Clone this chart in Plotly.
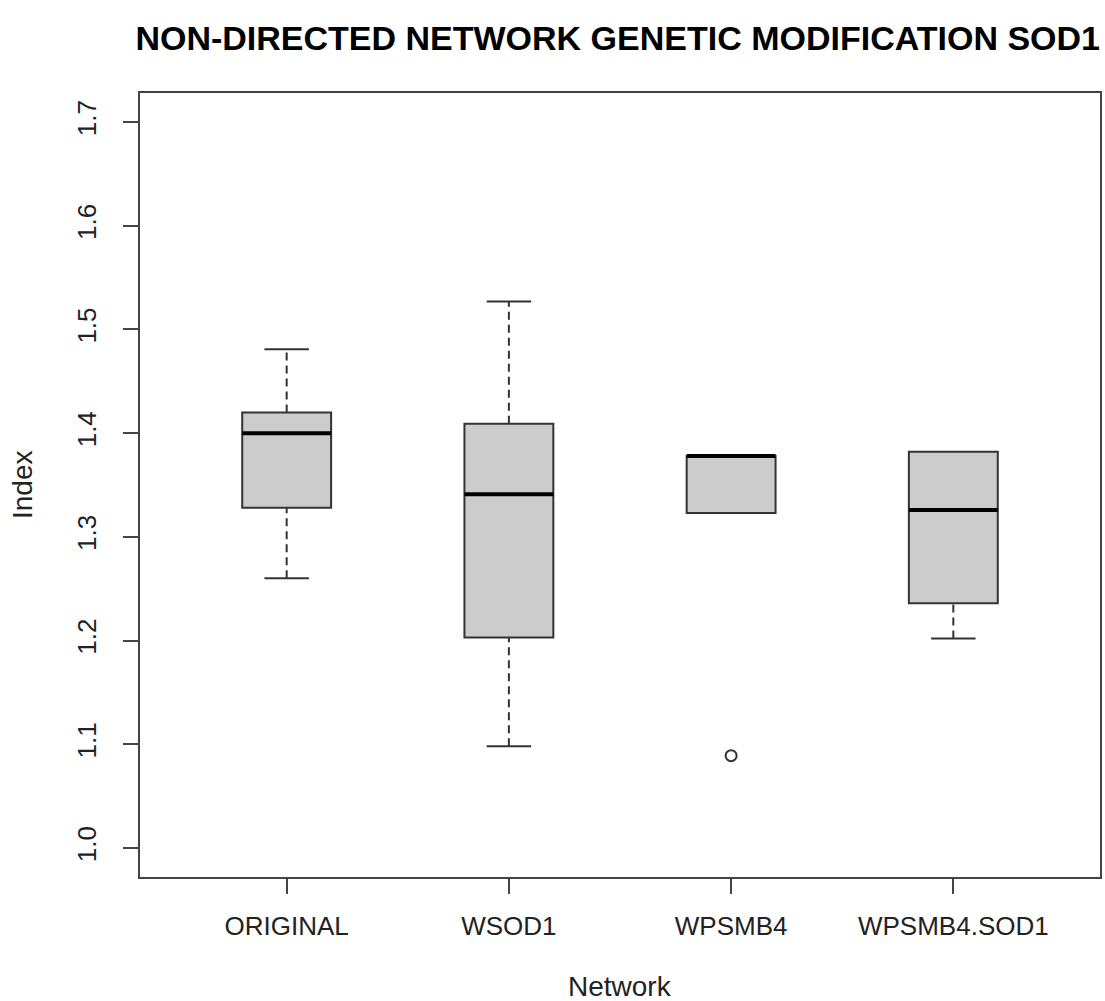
import plotly.graph_objects as go

categories = ["ORIGINAL", "WSOD1", "WPSMB4", "WPSMB4.SOD1"]
lower_whisker = [1.260, 1.098, 1.323, 1.202]
q1 = [1.328, 1.203, 1.323, 1.236]
median = [1.400, 1.341, 1.378, 1.326]
q3 = [1.420, 1.409, 1.378, 1.382]
upper_whisker = [1.481, 1.527, 1.378, 1.382]
outlier_group = ["WPSMB4"]
outlier_value = [1.089]

y_ticks = [1.0, 1.1, 1.2, 1.3, 1.4, 1.5, 1.6, 1.7]

BOX_W = 0.4
STAPLE_W = 0.2
LINE = "#333333"
FILL = "#CCCCCC"
FONT = "Liberation Sans, Arial, sans-serif"

pos = {c: i + 1 for i, c in enumerate(categories)}

fig = go.Figure()

# whiskers (dashed) and staples
for i, c in enumerate(categories):
    x0 = pos[c]
    if upper_whisker[i] > q3[i]:
        fig.add_trace(go.Scatter(x=[x0, x0], y=[q3[i], upper_whisker[i]], mode="lines",
                                 line=dict(color=LINE, width=2, dash="8px,5px"),
                                 showlegend=False, hoverinfo="skip"))
        fig.add_trace(go.Scatter(x=[x0 - STAPLE_W / 2, x0 + STAPLE_W / 2],
                                 y=[upper_whisker[i], upper_whisker[i]], mode="lines",
                                 line=dict(color=LINE, width=2), showlegend=False, hoverinfo="skip"))
    if lower_whisker[i] < q1[i]:
        fig.add_trace(go.Scatter(x=[x0, x0], y=[lower_whisker[i], q1[i]], mode="lines",
                                 line=dict(color=LINE, width=2, dash="8px,5px"),
                                 showlegend=False, hoverinfo="skip"))
        fig.add_trace(go.Scatter(x=[x0 - STAPLE_W / 2, x0 + STAPLE_W / 2],
                                 y=[lower_whisker[i], lower_whisker[i]], mode="lines",
                                 line=dict(color=LINE, width=2), showlegend=False, hoverinfo="skip"))

# boxes
fig.add_trace(go.Box(
    x=[pos[c] for c in categories],
    q1=q1, median=median, q3=q3,
    lowerfence=q1, upperfence=q3,
    width=BOX_W, whiskerwidth=0,
    fillcolor=FILL, line=dict(color=LINE, width=2),
    boxpoints=False, showlegend=False, hoverinfo="skip",
))

# thick medians
for i, c in enumerate(categories):
    x0 = pos[c]
    fig.add_trace(go.Scatter(x=[x0 - BOX_W / 2, x0 + BOX_W / 2], y=[median[i], median[i]],
                             mode="lines", line=dict(color="#000000", width=4),
                             showlegend=False, hoverinfo="skip"))

# outliers
fig.add_trace(go.Scatter(x=[pos[g] for g in outlier_group], y=outlier_value, mode="markers",
                         marker=dict(symbol="circle-open", size=11, color=LINE,
                                     line=dict(width=2, color=LINE)),
                         showlegend=False, hoverinfo="skip"))

fig.update_layout(
    width=1105, height=1001,
    margin=dict(l=140, r=5, t=93, b=124),
    paper_bgcolor="white", plot_bgcolor="white",
    font=dict(family=FONT, size=26, color="#222222"),
    title=dict(text="<b>NON-DIRECTED NETWORK GENETIC MODIFICATION SOD1</b>",
               x=0.559, xanchor="center", y=0.962, yanchor="middle",
               font=dict(family=FONT, size=34, color="#000000")),
    xaxis=dict(range=[0.34, 4.66], tickmode="array",
               tickvals=[pos[c] for c in categories], ticktext=categories,
               ticks="outside", ticklen=15, tickwidth=2, tickcolor="#444444",
               showline=True, linecolor="#444444", linewidth=2, mirror=True,
               showgrid=False, zeroline=False, ticklabelstandoff=10,
               automargin=False),
    yaxis=dict(range=[0.972, 1.728], tickmode="array", tickvals=y_ticks,
               ticktext=[f"{v:.1f}" for v in y_ticks], tickangle=-90,
               ticks="outside", ticklen=15, tickwidth=2, tickcolor="#444444",
               showline=True, linecolor="#444444", linewidth=2, mirror=True,
               showgrid=False, zeroline=False, ticklabelstandoff=17,
               automargin=False),
    annotations=[
        dict(text="Network", xref="paper", yref="paper", x=0.5, y=-0.1403,
             xanchor="center", yanchor="middle", showarrow=False,
             font=dict(family=FONT, size=28, color="#222222")),
        dict(text="Index", xref="paper", yref="paper", x=-0.1229, y=0.5,
             xanchor="center", yanchor="middle", textangle=-90, showarrow=False,
             font=dict(family=FONT, size=28, color="#222222")),
    ],
)

fig.write_html("out.html")
